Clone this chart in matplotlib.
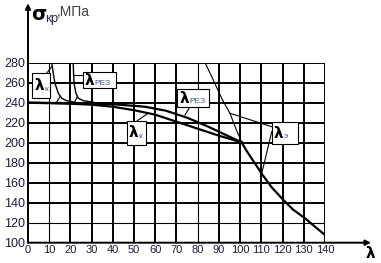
import matplotlib
matplotlib.use('Agg')
import matplotlib.pyplot as plt
from matplotlib.patches import Rectangle

# curves
lam_k = [0, 20, 30, 40, 50, 60, 70, 80, 90, 100.7]
sig_k = [240, 239, 238, 236, 232.5, 228, 221, 214, 207, 200.4]

lam_rez = [0, 20, 40, 55, 65, 75, 85, 95, 100.7]
sig_rez = [240, 239.6, 238.5, 236, 232, 225, 216, 206, 200.4]

# Euler curve: upper part thin, working part thick
lam_e_top = [83.5, 87.5, 91.3, 95.2, 98, 100.7]
sig_e_top = [280, 262, 244.4, 229.4, 214, 200.4]
lam_e = [100.7, 103, 105.5, 108, 110.5, 115, 120.4, 125, 130.6, 135, 140]
sig_e = [200.4, 192, 184, 176, 168, 155, 142.7, 133, 124.4, 116.5, 107.7]

# resonance spikes
lam_s1 = [11.2, 12.0, 12.7, 14.3, 15.9, 18.2, 22]
sig_s1 = [280, 268, 259.4, 249.4, 244.4, 242, 240.5]
lam_s2 = [21.3, 21.5, 21.7, 22.6, 23.7, 26.1, 31]
sig_s2 = [280, 268, 259.4, 249.4, 244.4, 242, 240.5]

x_ticks = list(range(0, 141, 10))
y_ticks = list(range(100, 281, 20))
thin_x = [10, 80]
thin_y = [120]

fig = plt.figure(figsize=(3.81, 2.63), dpi=100)
ax = fig.add_axes([28 / 381, 20.3 / 263, 297 / 381, 180 / 263])
ax.set_xlim(0, 140)
ax.set_ylim(100, 280)

for x in x_ticks[1:]:
    ax.axvline(x, color='black', lw=0.8 if x in thin_x else 1.4, zorder=1)
for y in y_ticks[1:]:
    ax.axhline(y, color='black', lw=0.8 if y in thin_y else 1.4, zorder=1)

for s in ['top', 'right', 'left', 'bottom']:
    ax.spines[s].set_visible(False)

lab_col = '#1c1c3c'
ax.set_xticks(x_ticks)
ax.set_xticklabels([str(v) for v in x_ticks], family='Liberation Sans', fontsize=8, color=lab_col)
ax.set_yticks(y_ticks)
ax.set_yticklabels([str(v) for v in y_ticks], family='Liberation Sans', fontsize=9, color=lab_col)
ax.tick_params(axis='x', length=0, pad=1.5)
ax.tick_params(axis='y', length=0, pad=2)

# axes with arrows
ax.annotate('', xy=(0, 1.33), xytext=(0, 0), xycoords='axes fraction',
            arrowprops=dict(arrowstyle='-|>', lw=1.4, color='black', mutation_scale=8,
                            shrinkA=0, shrinkB=0), annotation_clip=False)
ax.annotate('', xy=(1.155, 0), xytext=(0, 0), xycoords='axes fraction',
            arrowprops=dict(arrowstyle='-|>', lw=1.4, color='black', mutation_scale=8,
                            shrinkA=0, shrinkB=0), annotation_clip=False)

ax.plot(lam_k, sig_k, color='black', lw=1.6, zorder=3)
ax.plot(lam_rez, sig_rez, color='black', lw=1.6, zorder=3)
ax.plot(lam_e_top, sig_e_top, color='black', lw=0.8, zorder=3)
ax.plot(lam_e, sig_e, color='black', lw=1.6, zorder=3)
ax.plot(lam_s1, sig_s1, color='black', lw=1.0, zorder=3)
ax.plot(lam_s2, sig_s2, color='black', lw=1.0, zorder=3)
ax.plot([13.5, 15.2], [240.5, 246.5], color='black', lw=0.8, zorder=3)
ax.plot([22.0, 23.3], [240.5, 246.5], color='black', lw=0.8, zorder=3)

# pointer lines
for (x0, y0, x1, y1) in [(8.8, 269.4, 11.2, 276), (21.9, 267.7, 25.8, 267.7),
                         (76.4, 236, 74, 227.7), (51.5, 222, 56, 228.5),
                         (95.2, 229.4, 114.9, 216), (114.9, 211, 110.2, 169.4)]:
    ax.plot([x0, x1], [y0, y1], color='black', lw=0.8, zorder=3)

# label boxes
sub_col = '#3a5a9a'
boxes = [(2.0, 244.4, 10.4, 269.4, 'к'), (25.8, 254.4, 41.5, 271, 'РЕЗ'),
         (70.4, 236, 85.3, 253.4, 'РЕЗ'), (46.5, 197.7, 55.5, 222, 'к'),
         (114.9, 198.4, 127.4, 221, 'э')]
for (x0, y0, x1, y1, sub) in boxes:
    ax.add_patch(Rectangle((x0, y0), x1 - x0, y1 - y0, facecolor='white',
                           edgecolor='black', lw=0.8, zorder=4))
    ax.text(x0 + 1.0, (y0 + y1) / 2, 'λ', fontsize=11, fontweight='bold',
            ha='left', va='center', zorder=5)
    ax.text(x0 + 5.6, (y0 + y1) / 2 - 3.5, sub, fontsize=6,
            family='Liberation Sans', color=sub_col, ha='left', va='center', zorder=5)

# axis titles
fig.text(31 / 381, 1 - 20 / 263, 'σ', fontsize=14, fontweight='bold', ha='left', va='baseline')
fig.text(45 / 381, 1 - 22 / 263, 'кр', fontsize=9.5, family='Liberation Sans',
         color='#2a2a55', ha='left', va='baseline')
fig.text(57 / 381, 1 - 16 / 263, ',МПа', fontsize=10, family='Liberation Sans',
         color='#404050', ha='left', va='baseline')
fig.text(370 / 381, 1 - 258 / 263, 'λ', fontsize=11, fontweight='bold', ha='center', va='baseline')

fig.savefig('out.png', dpi=100)
